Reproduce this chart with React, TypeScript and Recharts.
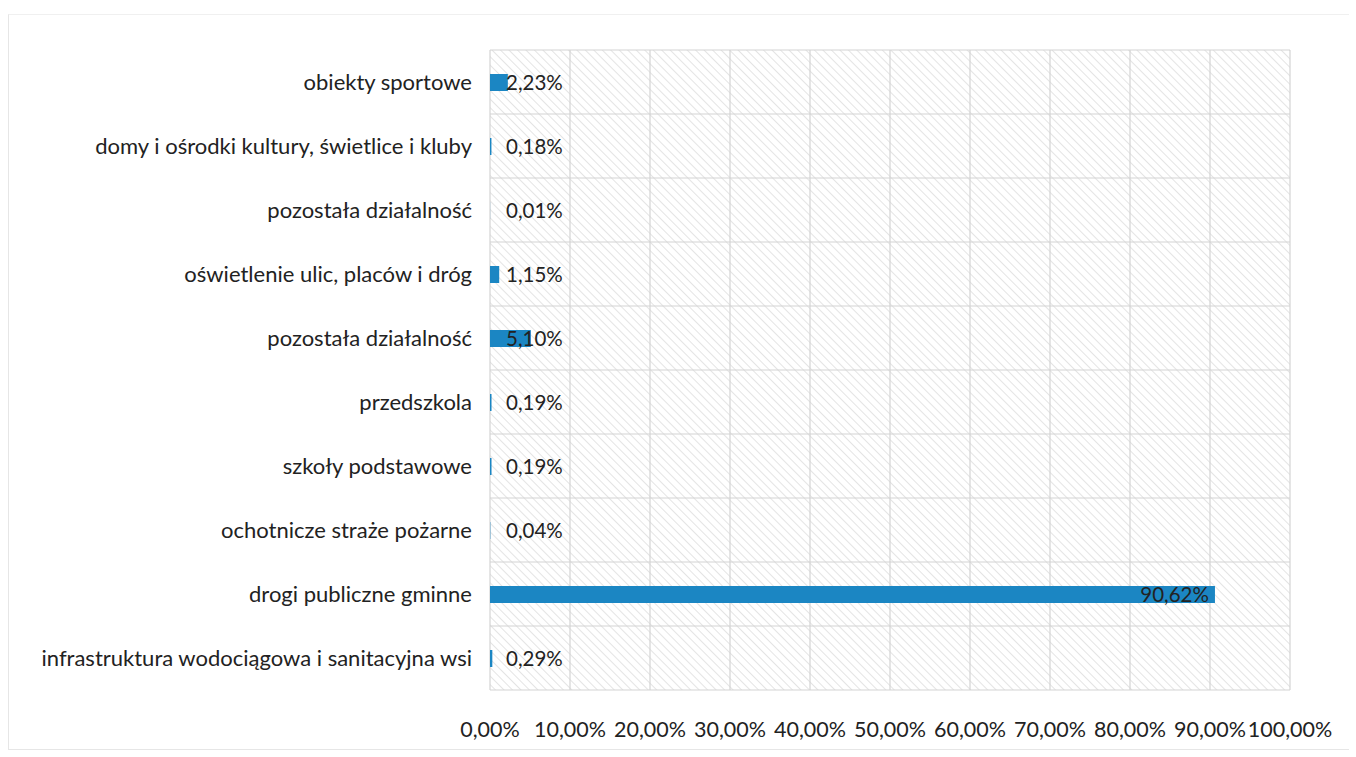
import { BarChart, Bar, XAxis, YAxis, CartesianGrid, LabelList } from "recharts";

const categories = [
  "obiekty sportowe",
  "domy i ośrodki kultury, świetlice i kluby",
  "pozostała działalność",
  "oświetlenie ulic, placów i dróg",
  "pozostała działalność",
  "przedszkola",
  "szkoły podstawowe",
  "ochotnicze straże pożarne",
  "drogi publiczne gminne",
  "infrastruktura wodociągowa i sanitacyjna wsi",
];

const shares = [2.23, 0.18, 0.01, 1.15, 5.1, 0.19, 0.19, 0.04, 90.62, 0.29];

const xTicks = [0, 10, 20, 30, 40, 50, 60, 70, 80, 90, 100];

const data = categories.map((name, i) => ({ id: i, name, share: shares[i] }));

const FONT = "Lato, 'Open Sans', sans-serif";
const BAR = "#1b86c3";

const pct = (v: number) => `${v.toFixed(2).replace(".", ",")}%`;

function ValueLabel(props: any) {
  const { x, y, width, height, value } = props;
  const big = value > 50;
  return (
    <text
      x={big ? x + width - 6 : x + 16}
      y={y + height / 2}
      dy="0.35em"
      textAnchor={big ? "end" : "start"}
      fontSize={20.5}
      fontFamily={FONT}
      fill="#222"
    >
      {pct(value)}
    </text>
  );
}

export default function App() {
  return (
    <div
      style={{
        position: "absolute",
        left: 0,
        top: 0,
        width: 1356,
        height: 757,
        background: "#fff",
        fontFamily: FONT,
      }}
    >
      <svg width={0} height={0} style={{ position: "absolute" }}>
        <defs>
          <pattern
            id="hatch"
            patternUnits="userSpaceOnUse"
            width={6}
            height={6}
            patternTransform="rotate(-45)"
          >
            <line x1={0} y1={0} x2={0} y2={6} stroke="#e4e4e4" strokeWidth={2} />
          </pattern>
        </defs>
      </svg>
      <div
        style={{
          position: "absolute",
          left: 8,
          top: 14,
          width: 1340,
          height: 734,
          borderLeft: "1px solid #e6e6e6",
          borderBottom: "1px solid #e6e6e6",
          borderTop: "1px solid #f0f0f0",
        }}
      />
      <BarChart
        width={1356}
        height={757}
        data={data}
        layout="vertical"
        margin={{ top: 50, right: 66, bottom: 0, left: 0 }}
        barCategoryGap={0}
        style={{ position: "absolute", left: 0, top: 0 }}
      >
        <CartesianGrid
          fill="url(#hatch)"
          stroke="#d4d4d4"
          strokeWidth={1.2}
          horizontalCoordinatesGenerator={({ offset }: any) =>
            categories
              .concat([""])
              .map((_, i) => offset.top + (i * offset.height) / categories.length)
          }
          verticalCoordinatesGenerator={({ offset }: any) =>
            xTicks.map((t) => offset.left + (t / 100) * offset.width)
          }
        />
        <XAxis
          type="number"
          domain={[0, 100]}
          ticks={xTicks}
          tickFormatter={pct}
          axisLine={false}
          tickLine={false}
          tickSize={0}
          tickMargin={32}
          height={67}
          interval={0}
          tick={{ fontSize: 21.5, fill: "#222", fontFamily: FONT }}
        />
        <YAxis
          type="category"
          dataKey="id"
          tickFormatter={(i: number) => categories[i]}
          width={490}
          axisLine={false}
          tickLine={false}
          tickSize={0}
          tickMargin={18}
          interval={0}
          tick={{ fontSize: 22, fill: "#222", fontFamily: FONT }}
        />
        <Bar dataKey="share" fill={BAR} barSize={17} isAnimationActive={false}>
          <LabelList dataKey="share" content={ValueLabel} />
        </Bar>
      </BarChart>
    </div>
  );
}
